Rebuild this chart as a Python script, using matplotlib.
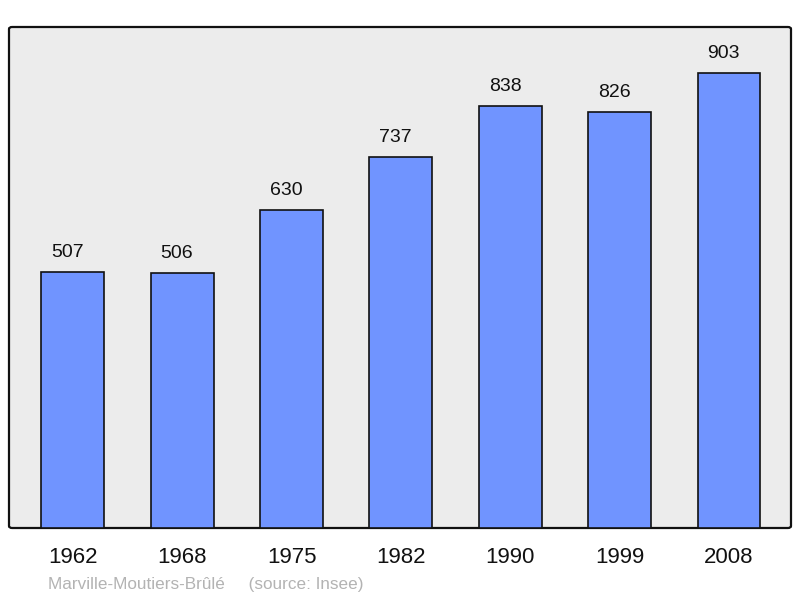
import matplotlib.pyplot as plt
from matplotlib.patches import FancyBboxPatch

plt.rcParams['font.family'] = ['Liberation Sans', 'DejaVu Sans']

# population data
years = ['1962', '1968', '1975', '1982', '1990', '1999', '2008']
population = [507, 506, 630, 737, 838, 826, 903]
place = 'Marville-Moutiers-Brûlé'
source = '(source: Insee)'

fig = plt.figure(figsize=(8, 5.98), dpi=100)
ax = fig.add_axes([9 / 800, 1 - 528 / 598, 782 / 800, 501 / 598])
ax.set_facecolor('none')

# grey panel with slightly rounded corners
panel = FancyBboxPatch((0, 0), 1, 1, boxstyle='round,pad=0,rounding_size=0.004',
                       transform=ax.transAxes, facecolor='#ececec',
                       edgecolor='#111111', linewidth=1.6, zorder=0, clip_on=False)
ax.add_patch(panel)

x = range(len(years))
ax.bar(x, population, width=0.576, color='#7094ff', edgecolor='#111111',
       linewidth=1.2, zorder=2)

for xi, val in zip(x, population):
    ax.annotate(str(val), (xi, val), xytext=(-3.8, 10.8), textcoords='offset points',
                ha='center', va='baseline', fontsize=14, color='#111111')

ax.set_xlim(-0.585, 6.567)
ax.set_ylim(0, 994)
ax.set_xticks(list(x))
ax.set_xticklabels(years, fontsize=16, color='#111111')
ax.tick_params(axis='x', length=0, pad=14)
ax.set_yticks([])
for s in ax.spines.values():
    s.set_visible(False)

fig.text(48 / 800, 1 - 584 / 598, place + '     ' + source, fontsize=12.3,
         color='#b3b3b3', ha='left', va='center')

fig.savefig('out.png', dpi=100)
